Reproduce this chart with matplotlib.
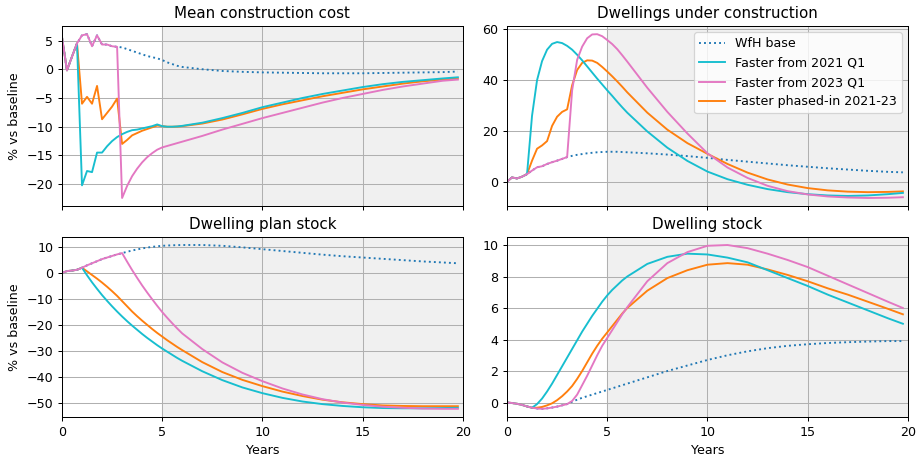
import numpy as np
import matplotlib
matplotlib.use("Agg")
import matplotlib.pyplot as plt
from matplotlib.ticker import MultipleLocator

# quarterly up to year 6, then yearly
years = [0, 0.25, 0.5, 0.75, 1, 1.25, 1.5, 1.75, 2, 2.25, 2.5, 2.75,
         3, 3.25, 3.5, 3.75, 4, 4.25, 4.5, 4.75, 5, 5.25, 5.5, 5.75,
         6, 7, 8, 9, 10, 11, 12, 13, 14, 15, 16, 17, 18, 19, 19.75]

# mean construction cost
cost_base = [5.6, -0.2, 2.2, 4.5, 5.9, 6.1, 4.0, 5.9, 4.3, 4.3, 4.0, 3.9,
             3.8, 3.5, 3.2, 2.9, 2.6, 2.3, 2.1, 1.9, 1.6, 1.2, 0.9, 0.6,
             0.4, 0.0, -0.3, -0.45, -0.55, -0.6, -0.65, -0.7, -0.7, -0.7, -0.65, -0.6, -0.55, -0.5, -0.4]
cost_2021 = [5.6, -0.2, 2.2, 4.5, -20.2, -17.7, -17.9, -14.5, -14.5, -13.4, -12.5, -11.8,
             -11.3, -10.9, -10.6, -10.5, -10.3, -10.1, -9.9, -9.6, -9.9, -10.0, -10.0, -9.95,
             -9.85, -9.3, -8.5, -7.6, -6.6, -5.8, -5.0, -4.3, -3.7, -3.1, -2.6, -2.2, -1.9, -1.6, -1.4]
cost_2023 = [5.6, -0.2, 2.2, 4.5, 5.9, 6.1, 4.0, 5.9, 4.3, 4.3, 4.0, 3.9,
             -22.4, -20.3, -18.6, -17.3, -16.2, -15.3, -14.6, -14.0, -13.6, -13.35, -13.1, -12.85,
             -12.6, -11.6, -10.5, -9.5, -8.5, -7.6, -6.7, -5.8, -5.0, -4.3, -3.6, -3.0, -2.5, -2.0, -1.8]
cost_phased = [5.6, -0.2, 2.2, 4.5, -6.0, -4.8, -6.0, -2.9, -8.7, -7.6, -6.5, -5.1,
               -13.0, -12.3, -11.5, -11.1, -10.7, -10.4, -10.1, -9.8, -9.9, -10.0, -10.0, -9.97,
               -9.9, -9.45, -8.75, -7.85, -6.9, -6.1, -5.4, -4.7, -4.1, -3.5, -3.0, -2.5, -2.1, -1.8, -1.6]

# dwellings under construction
constr_base = [0.0, 1.7, 1.3, 2.0, 3.0, 4.4, 5.7, 6.1, 7.0, 7.7, 8.3, 9.0,
               9.7, 10.2, 10.6, 10.9, 11.2, 11.4, 11.6, 11.7, 11.8, 11.8, 11.8, 11.7,
               11.6, 11.2, 10.7, 10.1, 9.4, 8.6, 7.9, 7.2, 6.5, 5.9, 5.3, 4.8, 4.3, 3.9, 3.7]
constr_2021 = [0.0, 1.7, 1.3, 2.0, 3.0, 26.0, 40.0, 47.5, 52.0, 54.3, 55.0, 54.6,
               53.5, 52.0, 50.0, 47.8, 45.4, 43.0, 40.6, 38.3, 36.0, 33.8, 31.5, 29.3,
               27.2, 19.8, 13.4, 8.2, 4.0, 1.0, -1.2, -2.9, -4.1, -4.9, -5.4, -5.6, -5.4, -4.9, -4.4]
constr_2023 = [0.0, 1.7, 1.3, 2.0, 3.0, 4.4, 5.7, 6.1, 7.0, 7.7, 8.3, 9.0,
               9.7, 36.0, 48.0, 53.2, 56.5, 58.0, 58.1, 57.3, 55.8, 54.2, 52.2, 49.8,
               47.3, 37.0, 27.5, 19.0, 11.2, 5.6, 1.5, -1.6, -3.7, -5.0, -5.8, -6.2, -6.4, -6.3, -6.1]
constr_phased = [0.0, 1.7, 1.3, 2.0, 3.0, 8.3, 13.0, 14.3, 16.0, 22.0, 25.6, 27.5,
                 28.5, 38.0, 44.0, 46.8, 47.8, 47.7, 46.8, 45.2, 43.4, 41.5, 39.5, 37.4,
                 35.2, 27.2, 20.5, 15.2, 11.0, 7.0, 3.6, 0.9, -1.1, -2.5, -3.4, -3.9, -4.1, -4.0, -3.8]

# dwelling plan stock
plan_base = [0.0, 0.7, 0.9, 1.2, 2.0, 2.9, 3.7, 4.5, 5.3, 5.9, 6.5, 7.1,
             7.6, 8.1, 8.6, 9.0, 9.4, 9.7, 10.0, 10.2, 10.4, 10.5, 10.6, 10.65,
             10.7, 10.7, 10.4, 9.8, 9.1, 8.4, 7.7, 7.0, 6.4, 5.9, 5.4, 4.9, 4.4, 4.0, 3.7]
plan_2021 = [0.0, 0.7, 0.9, 1.2, 2.0, -0.9, -3.6, -6.1, -8.5, -10.7, -12.8, -14.8,
             -16.7, -18.5, -20.2, -21.8, -23.4, -24.9, -26.3, -27.7, -29.0, -30.2, -31.4, -32.6,
             -33.7, -37.7, -41.1, -43.9, -46.1, -47.9, -49.3, -50.3, -51.0, -51.5, -51.8, -51.9, -51.9, -51.8, -51.7]
plan_2023 = [0.0, 0.7, 0.9, 1.2, 2.0, 2.9, 3.7, 4.5, 5.3, 5.9, 6.5, 7.1,
             7.6, 4.3, 1.1, -1.9, -4.8, -7.5, -10.1, -12.6, -15.0, -17.2, -19.3, -21.3,
             -23.2, -29.2, -34.3, -38.3, -41.5, -44.3, -46.6, -48.4, -49.7, -50.6, -51.3, -51.7, -52.0, -52.1, -52.1]
plan_phased = [0.0, 0.7, 0.9, 1.2, 2.0, 0.6, -0.8, -2.2, -3.7, -5.3, -7.0, -8.8,
               -10.8, -12.8, -14.8, -16.6, -18.3, -19.9, -21.5, -23.0, -24.4, -25.8, -27.1, -28.4,
               -29.6, -34.2, -38.0, -41.0, -43.4, -45.5, -47.2, -48.6, -49.6, -50.3, -50.8, -51.0, -51.1, -51.1, -51.1]

# dwelling stock
stock_base = [0.0, -0.03, -0.08, -0.15, -0.25, -0.33, -0.38, -0.4, -0.37, -0.32, -0.26, -0.18,
              -0.1, 0.05, 0.18, 0.3, 0.4, 0.5, 0.6, 0.7, 0.8, 0.9, 1.0, 1.1,
              1.2, 1.6, 2.0, 2.35, 2.7, 3.0, 3.25, 3.45, 3.6, 3.7, 3.78, 3.83, 3.87, 3.9, 3.9]
stock_2021 = [0.0, -0.03, -0.08, -0.15, -0.25, -0.33, -0.1, 0.25, 0.7, 1.2, 1.75, 2.3,
              2.85, 3.4, 3.95, 4.5, 5.0, 5.5, 5.95, 6.4, 6.8, 7.15, 7.45, 7.75,
              8.0, 8.8, 9.25, 9.45, 9.4, 9.2, 8.9, 8.4, 7.9, 7.4, 6.85, 6.35, 5.85, 5.35, 5.0]
stock_2023 = [0.0, -0.03, -0.08, -0.15, -0.25, -0.33, -0.38, -0.4, -0.37, -0.32, -0.26, -0.18,
              -0.1, 0.1, 0.5, 1.1, 1.7, 2.35, 3.0, 3.6, 4.1, 4.6, 5.1, 5.6,
              6.05, 7.7, 8.85, 9.55, 9.95, 10.0, 9.8, 9.45, 9.05, 8.6, 8.05, 7.5, 6.95, 6.4, 6.0]
stock_phased = [0.0, -0.03, -0.08, -0.15, -0.25, -0.33, -0.33, -0.28, -0.18, -0.05, 0.15, 0.4,
                0.7, 1.05, 1.5, 2.0, 2.55, 3.1, 3.6, 4.05, 4.45, 4.85, 5.25, 5.65,
                6.0, 7.1, 7.9, 8.4, 8.75, 8.85, 8.75, 8.45, 8.1, 7.7, 7.25, 6.85, 6.4, 5.95, 5.6]

titles = ["Mean construction cost", "Dwellings under construction",
          "Dwelling plan stock", "Dwelling stock"]
panels = [
    (cost_base, cost_2021, cost_2023, cost_phased),
    (constr_base, constr_2021, constr_2023, constr_phased),
    (plan_base, plan_2021, plan_2023, plan_phased),
    (stock_base, stock_2021, stock_2023, stock_phased),
]
ytick_steps = [5, 20, 10, 2]

# the original looks like a bigger figure shrunk down, so use a lower dpi
fig, axes = plt.subplots(2, 2, sharex=True, figsize=(918 / 91, 456 / 91), dpi=91)
fig.subplots_adjust(left=0.0675, right=0.989, top=0.943, bottom=0.0855,
                    wspace=0.11, hspace=0.17)

for ax, title, step, (base, s2021, s2023, phased) in zip(axes.flat, titles, ytick_steps, panels):
    ax.axvspan(5, 20, color="#f0f0f0", zorder=0)
    l_base, = ax.plot(years, base, ":", color="tab:blue", lw=1.5, label="WfH base")
    l_ph, = ax.plot(years, phased, color="tab:orange", lw=1.5, label="Faster phased-in 2021-23")
    l_21, = ax.plot(years, s2021, color="tab:cyan", lw=1.5, label="Faster from 2021 Q1")
    l_23, = ax.plot(years, s2023, color="tab:pink", lw=1.5, label="Faster from 2023 Q1")
    ax.set_title(title)
    ax.grid(True, color="#b0b0b0", lw=0.8)
    ax.set_axisbelow(True)
    ax.set_xlim(0, 20)
    ax.xaxis.set_major_locator(MultipleLocator(5))
    ax.yaxis.set_major_locator(MultipleLocator(step))

axes[1, 0].set_xlabel("Years")
axes[1, 1].set_xlabel("Years")
axes[0, 0].set_ylabel("% vs baseline")
axes[1, 0].set_ylabel("% vs baseline")

# legend order: base, 2021, 2023, phased
axes[0, 1].legend(handles=[l_base, l_21, l_23, l_ph], loc="upper right")

plt.savefig("out.png")
